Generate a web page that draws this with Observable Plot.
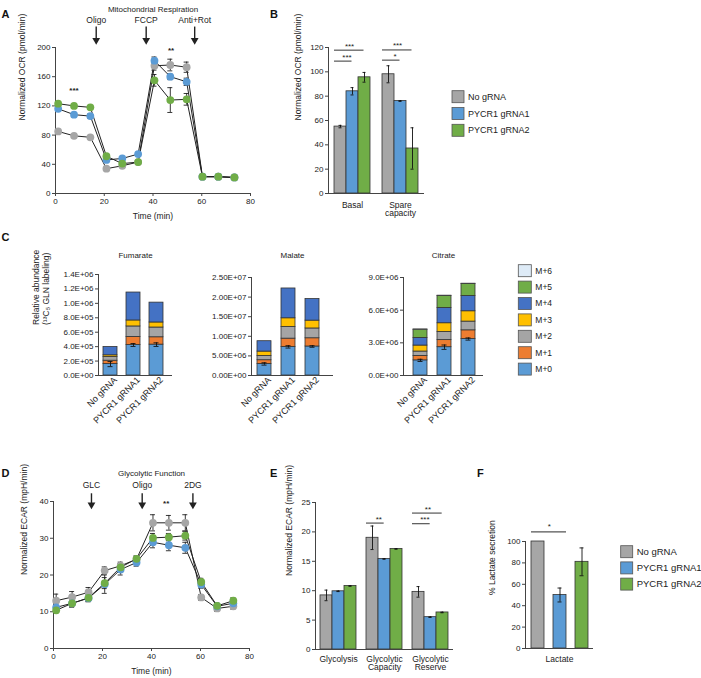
<!DOCTYPE html>
<html><head><meta charset="utf-8">
<script src="https://cdn.jsdelivr.net/npm/d3@7"></script>
<script src="https://cdn.jsdelivr.net/npm/@observablehq/plot@0.6"></script>
<style>
body{margin:0;background:#fff;}
#fig{position:relative;width:701px;height:678px;overflow:hidden;background:#fff;font-family:"Liberation Sans",Arial,Helvetica,sans-serif;color:#222;}
</style></head><body><div id="fig"></div>
<script>
// ---------- shared ----------
const samples = ["No gRNA", "PYCR1 gRNA1", "PYCR1 gRNA2"];
const sampleColors = ["#a6a6a6", "#5b9bd5", "#70ad47"];
const times = [1.1, 7.6, 14.3, 20.9, 27.4, 33.9, 40.6, 47.1, 53.8, 60.3, 66.8, 73.4];
const timeTicks = [0, 20, 40, 60, 80];

// ---------- A: OCR ----------
const ocrNoGRNA = [85, 79, 77, 34, 38, 43, 175, 176, 173, 23, 23, 22];
const ocrGRNA1  = [116, 108, 106, 46, 48, 54, 182, 160, 153, 23, 23, 22];
const ocrGRNA2  = [123, 120, 118, 51, 41, 43, 155, 128, 129, 23, 23, 22];
const ocrErrNoGRNA = [2, 2, 2, 2, 2, 2, 6, 8, 7, 1, 1, 1];
const ocrErrGRNA1  = [2, 3, 3, 2, 2, 2, 5, 4, 5, 1, 1, 1];
const ocrErrGRNA2  = [2, 2, 2, 3, 2, 2, 8, 17, 8, 1, 1, 1];
const ocrInjections = ["Oligo", "FCCP", "Anti+Rot"];
const ocrInjectionTimes = [16.7, 37.2, 57.1];
const ocrSigLabels = ["***", "**"];
const ocrSigTimes = [7.6, 47.4];
const ocrSigValues = [141, 196];
const ocrTicks = [0, 40, 80, 120, 160, 200];

// ---------- B: OCR bars ----------
const ocrGroups = ["Basal", "Spare\ncapacity"];
const ocrBarNoGRNA = [55, 98];
const ocrBarGRNA1  = [84, 76];
const ocrBarGRNA2  = [95.5, 37];
const ocrBarErrNoGRNA = [1, 7];
const ocrBarErrGRNA1  = [3, 0.3];
const ocrBarErrGRNA2  = [4, 17];
const ocrBarTicks = [0, 20, 40, 60, 80, 100, 120];
const ocrBracketGroups = ["Basal", "Basal", "Spare\ncapacity", "Spare\ncapacity"];
const ocrBracketTo = ["PYCR1 gRNA2", "PYCR1 gRNA1", "PYCR1 gRNA2", "PYCR1 gRNA1"];
const ocrBracketValues = [117.8, 108.8, 118, 109.6];
const ocrBracketLabels = ["***", "***", "***", "*"];

// ---------- C: isotopologues ----------
const isoLabels = ["M+0", "M+1", "M+2", "M+3", "M+4", "M+5", "M+6"];
const isoColors = ["#5b9bd5", "#ed7d31", "#a5a5a5", "#ffc000", "#4472c4", "#70ad47", "#deebf7"];
// rows: M+0 .. M+n ; columns: samples
const fumarateLayers = [
  [1.58e5, 4.23e5, 4.28e5],
  [0.47e5, 1.12e5, 1.02e5],
  [0.51e5, 1.45e5, 1.35e5],
  [0.24e5, 0.83e5, 0.70e5],
  [1.15e5, 3.87e5, 2.75e5]
];
const fumarateErrM0 = [0.35e5, 0.2e5, 0.25e5];
const fumarateTicks = [0, 2e5, 4e5, 6e5, 8e5, 1e6, 1.2e6, 1.4e6];
const malateLayers = [
  [2.95e6, 7.3e6, 7.4e6],
  [0.95e6, 2.1e6, 2.1e6],
  [1.1e6, 3.0e6, 2.5e6],
  [1.1e6, 2.2e6, 2.0e6],
  [2.65e6, 7.6e6, 5.5e6]
];
const malateErrM0 = [0.3e6, 0.3e6, 0.2e6];
const malateTicks = [0, 5e6, 1e7, 1.5e7, 2e7, 2.5e7];
const citrateLayers = [
  [1.39e6, 2.6e6, 3.35e6],
  [0.41e6, 0.65e6, 0.8e6],
  [0.40e6, 0.75e6, 0.8e6],
  [0.55e6, 0.8e6, 0.95e6],
  [0.70e6, 1.4e6, 1.4e6],
  [0.75e6, 1.1e6, 1.1e6],
  [0.03e6, 0.03e6, 0.03e6]
];
const citrateErrM0 = [0.1e6, 0.2e6, 0.1e6];
const citrateTicks = [0, 3e6, 6e6, 9e6];

// ---------- D: ECAR ----------
const ecarNoGRNA = [13, 14, 15.3, 21.2, 22.5, 24.3, 34.2, 34.2, 34.2, 13.9, 10.9, 11.5];
const ecarGRNA1  = [11.2, 12.3, 13.7, 17.5, 21.5, 23.4, 28.9, 28.1, 27.4, 17.4, 11.5, 12.3];
const ecarGRNA2  = [10.4, 12.3, 13.8, 17.8, 22.1, 24.4, 30.1, 30.3, 30.7, 18.1, 11.6, 13.0];
const ecarErrNoGRNA = [1.8, 1.5, 1.3, 1.0, 1.0, 0.8, 2.2, 2.0, 2.2, 0.8, 0.8, 0.8];
const ecarErrGRNA1  = [1.0, 1.0, 1.0, 2.5, 1.5, 1.0, 1.5, 1.5, 1.5, 1.0, 0.8, 0.8];
const ecarErrGRNA2  = [0.8, 1.0, 1.0, 1.5, 1.0, 0.8, 1.2, 1.0, 1.2, 1.0, 0.8, 0.8];
const ecarInjections = ["GLC", "Oligo", "2DG"];
const ecarInjectionTimes = [15.5, 36.2, 56.9];
const ecarSigLabels = ["**"];
const ecarSigTimes = [46];
const ecarSigValues = [39.6];
const ecarTicks = [0, 10, 20, 30, 40];

// ---------- E: ECAR bars ----------
const ecarGroups = ["Glycolysis", "Glycolytic\nCapacity", "Glycolytic\nReserve"];
const ecarBarNoGRNA = [9.2, 19.0, 9.8];
const ecarBarGRNA1  = [9.9, 15.4, 5.5];
const ecarBarGRNA2  = [10.8, 17.1, 6.3];
const ecarBarErrNoGRNA = [0.9, 2.0, 0.9];
const ecarBarErrGRNA1  = [0.05, 0.05, 0.05];
const ecarBarErrGRNA2  = [0.05, 0.05, 0.05];
const ecarBarTicks = [0, 5, 10, 15, 20, 25];
const ecarBracketGroups = ["Glycolytic\nCapacity", "Glycolytic\nReserve", "Glycolytic\nReserve"];
const ecarBracketTo = ["PYCR1 gRNA1", "PYCR1 gRNA2", "PYCR1 gRNA1"];
const ecarBracketValues = [21.5, 23.2, 21.4];
const ecarBracketLabels = ["**", "**", "***"];

// ---------- F: lactate ----------
const lactate = [100, 50, 81];
const lactateErr = [0, 6.5, 13];
const lactateTicks = [0, 20, 40, 60, 80, 100];
const lactateBracketTo = ["PYCR1 gRNA1"];
const lactateBracketValues = [109];
const lactateBracketLabels = ["*"];

// ================= drawing =================
const FONT = '"Liberation Sans", Arial, Helvetica, sans-serif';
const INK = "#222";
const AXIS = "#444";
const fig = document.getElementById("fig");
const baseStyle = {fontFamily: FONT, fontSize: "8px", color: INK, background: "transparent", overflow: "visible"};
function mount(svg, left, top) {
  svg.style.position = "absolute";
  svg.style.left = left + "px";
  svg.style.top = top + "px";
  svg.style.background = "transparent";
  svg.style.overflow = "visible";
  svg.style.maxWidth = "none";
  fig.appendChild(svg);
}
function sci(digits) {
  return v => {
    const [m, e] = v.toExponential(digits).split("e");
    const n = +e;
    return `${m}E${n < 0 ? "-" : "+"}${String(Math.abs(n)).padStart(2, "0")}`;
  };
}
function tidyTime(series, errs) {
  return samples.flatMap((s, k) => times.map((t, i) => ({sample: s, t, v: series[k][i], e: errs[k][i]})));
}
function tidyBars(groups, series, errs) {
  return groups.flatMap((g, j) => samples.map((s, k) => ({group: g, sample: s, v: series[k][j], e: errs[k][j]})));
}
function errLinear(rows) {
  const o = {stroke: INK, strokeWidth: 0.9};
  return [
    Plot.ruleX(rows, {x: "t", y1: d => d.v - d.e, y2: d => d.v + d.e, ...o}),
    Plot.ruleY(rows, {x1: "t", x2: "t", y: d => d.v + d.e, insetLeft: -2.5, insetRight: -2.5, ...o}),
    Plot.ruleY(rows, {x1: "t", x2: "t", y: d => d.v - d.e, insetLeft: -2.5, insetRight: -2.5, ...o})
  ];
}
function errBand(rows, inset, facet) {
  const o = {stroke: "#111", strokeWidth: 0.9};
  const f = facet ? {fx: "group"} : {};
  return [
    Plot.ruleX(rows, {...f, x: "sample", y1: d => d.v - d.e, y2: d => d.v + d.e, ...o}),
    Plot.tickY(rows, {...f, x: "sample", y: d => d.v + d.e, inset, ...o}),
    Plot.tickY(rows, {...f, x: "sample", y: d => d.v - d.e, inset, ...o})
  ];
}

// ---- time-course panel (A, D) ----
function timePanel(o) {
  const rows = tidyTime(o.series, o.errs);
  return Plot.plot({
    width: o.width, height: o.height,
    marginLeft: o.mL, marginRight: o.mR, marginTop: o.mT, marginBottom: o.mB,
    x: {domain: [0, 80]},
    y: {domain: [0, o.yMax]},
    color: {domain: samples, range: sampleColors},
    style: baseStyle,
    marks: [
      Plot.frame({anchor: "left", stroke: AXIS}),
      Plot.frame({anchor: "bottom", stroke: AXIS}),
      Plot.axisX({ticks: timeTicks, tickSize: 3, tickPadding: 2, label: null, stroke: AXIS}),
      Plot.axisY({ticks: o.ticks, tickSize: 3, tickPadding: 2, label: null, stroke: AXIS}),
      Plot.text([o.yLabel], {frameAnchor: "left", rotate: -90, dx: o.yLabelDx, fontSize: 8.5}),
      Plot.text(["Time (min)"], {frameAnchor: "bottom", dy: 25, fontSize: 8.5}),
      Plot.text([o.title], {frameAnchor: "top", dy: o.titleDy, fontSize: 8}),
      Plot.ruleX(o.injTimes, {x: d => d, y1: o.arrowTop, y2: o.arrowHead, stroke: INK, strokeWidth: 1.4}),
      Plot.dot(o.injTimes, {x: d => d, y: o.arrowHead, symbol: "triangle", rotate: 180, r: 2.9, fill: INK, stroke: "none"}),
      Plot.text(o.injTimes, {x: d => d, y: o.injLabelY, text: (d, i) => o.injLabels[i], fontSize: 8.5}),
      Plot.line(rows, {x: "t", y: "v", z: "sample", stroke: INK, strokeWidth: 1}),
      ...errLinear(rows),
      Plot.dot(rows, {x: "t", y: "v", fill: "sample", r: 3.9, stroke: "none"}),
      Plot.text(o.sigTimes, {x: d => d, y: (d, i) => o.sigValues[i], text: (d, i) => o.sigLabels[i], fontSize: 8, fontWeight: "bold"})
    ]
  });
}

mount(timePanel({
  width: 260, height: 225, mL: 55, mR: 10, mT: 47, mB: 32,
  yMax: 200, ticks: ocrTicks,
  series: [ocrNoGRNA, ocrGRNA1, ocrGRNA2], errs: [ocrErrNoGRNA, ocrErrGRNA1, ocrErrGRNA2],
  yLabel: "Normalized OCR (pmol/min)", yLabelDx: -33,
  title: "Mitochondrial Respiration", titleDy: -41,
  injTimes: ocrInjectionTimes, injLabels: ocrInjections,
  arrowTop: 228, arrowHead: 210, injLabelY: 237.5,
  sigTimes: ocrSigTimes, sigValues: ocrSigValues, sigLabels: ocrSigLabels
}), 0, 0);

mount(timePanel({
  width: 260, height: 238, mL: 53, mR: 11, mT: 61, mB: 30,
  yMax: 40, ticks: ecarTicks,
  series: [ecarNoGRNA, ecarGRNA1, ecarGRNA2], errs: [ecarErrNoGRNA, ecarErrGRNA1, ecarErrGRNA2],
  yLabel: "Normalized ECAR (mpH/min)", yLabelDx: -29,
  title: "Glycolytic Function", titleDy: -31,
  injTimes: ecarInjectionTimes, injLabels: ecarInjections,
  arrowTop: 42.1, arrowHead: 39.1, injLabelY: 44.5,
  sigTimes: ecarSigTimes, sigValues: ecarSigValues, sigLabels: ecarSigLabels
}), 0, 440);

// ---- grouped bar panels (B, E) ----
function groupedPanel(o) {
  const rows = tidyBars(o.groups, o.series, o.errs);
  const br = o.brGroups.map((g, i) => ({group: g, from: samples[0], to: o.brTo[i], v: o.brValues[i], label: o.brLabels[i]}));
  const brShort = br.filter(d => d.to === samples[1]);
  const brLong = br.filter(d => d.to === samples[2]);
  return Plot.plot({
    width: o.width, height: o.height,
    marginLeft: o.mL, marginRight: o.mR, marginTop: o.mT, marginBottom: o.mB,
    fx: {domain: o.groups, padding: 0},
    x: {domain: samples, paddingInner: 0, paddingOuter: o.po, axis: null},
    y: {domain: [0, o.yMax]},
    color: {domain: samples, range: sampleColors},
    style: baseStyle,
    marks: [
      Plot.barY(rows, {fx: "group", x: "sample", y: "v", fill: "sample", stroke: "#333", strokeWidth: 0.8}),
      ...errBand(rows, 4.5, true),
      Plot.ruleY([0], {stroke: AXIS}),
      Plot.frame({anchor: "left", facetAnchor: "left", stroke: AXIS}),
      Plot.axisY({ticks: o.ticks, tickSize: 3, tickPadding: 2, label: null, stroke: AXIS}),
      Plot.axisFx({anchor: "bottom", tickSize: 0, tickPadding: o.fxPad, label: null, fontSize: 8.5}),
      Plot.text([o.yLabel], {frameAnchor: "left", rotate: -90, dx: o.yLabelDx, fontSize: 8.5, facetAnchor: "left"}),
      Plot.ruleY(br, {fx: "group", x1: "from", x2: "to", y: "v", insetRight: o.bw / 2, stroke: "#555", strokeWidth: 1.2}),
      Plot.text(brShort, {fx: "group", x: "from", y: "v", text: "label", dx: o.bw * 0.5, dy: -4, fontSize: 8}),
      Plot.text(brLong, {fx: "group", x: "to", y: "v", text: "label", dx: -o.bw * 1.15, dy: -4, fontSize: 8})
    ]
  });
}

mount(groupedPanel({
  width: 200, height: 225, mL: 98, mR: 6, mT: 47, mB: 32,
  groups: ocrGroups, series: [ocrBarNoGRNA, ocrBarGRNA1, ocrBarGRNA2],
  errs: [ocrBarErrNoGRNA, ocrBarErrGRNA1, ocrBarErrGRNA2],
  po: 0.35, bw: 13, yMax: 120, ticks: ocrBarTicks, fxPad: 8,
  yLabel: "Normalized OCR (pmol/min)", yLabelDx: -30,
  brGroups: ocrBracketGroups, brTo: ocrBracketTo, brValues: ocrBracketValues, brLabels: ocrBracketLabels
}), 230, 0);

mount(groupedPanel({
  width: 225, height: 238, mL: 79, mR: 7, mT: 62, mB: 29,
  groups: ecarGroups, series: [ecarBarNoGRNA, ecarBarGRNA1, ecarBarGRNA2],
  errs: [ecarBarErrNoGRNA, ecarBarErrGRNA1, ecarBarErrGRNA2],
  po: 0.33, bw: 12.67, yMax: 25, ticks: ecarBarTicks, fxPad: 6,
  yLabel: "Normalized ECAR (mpH/min)", yLabelDx: -26,
  brGroups: ecarBracketGroups, brTo: ecarBracketTo, brValues: ecarBracketValues, brLabels: ecarBracketLabels
}), 235, 440);

// ---- stacked isotopologue panels (C) ----
function stackPanel(o) {
  const rows = [];
  o.layers.forEach((layer, j) => layer.forEach((v, k) => rows.push({iso: isoLabels[j], sample: samples[k], v})));
  const errRows = samples.map((s, k) => ({sample: s, v: o.layers[0][k], e: o.errM0[k]}));
  const marks = [
    Plot.barY(rows, {x: "sample", y: "v", fill: "iso", stroke: "#333", strokeWidth: 0.8}),
    ...errBand(errRows, 4.5, false),
    Plot.frame({anchor: "left", stroke: AXIS}),
    Plot.ruleY([0], {stroke: AXIS}),
    Plot.axisY({ticks: o.ticks, tickFormat: sci(o.digits), tickSize: 3, tickPadding: 2, label: null, stroke: AXIS}),
    Plot.axisX({tickRotate: -45, tickSize: 0, tickPadding: 3, label: null, fontSize: 9, dx: 5}),
    Plot.text([o.name], {frameAnchor: "top", dy: o.titleDy, fontSize: 8})
  ];
  if (o.yLabel) marks.push(Plot.text([o.yLabel], {frameAnchor: "left", rotate: -90, dx: o.yLabelDx, fontSize: 8.5, lineHeight: 1.2}));
  return Plot.plot({
    width: o.width, height: 200,
    marginLeft: o.mL, marginRight: o.mR, marginTop: o.mT, marginBottom: 50,
    x: {domain: samples, paddingInner: o.pi, paddingOuter: o.po, align: o.align},
    y: {domain: [0, o.ticks[o.ticks.length - 1]]},
    color: {domain: isoLabels, range: isoColors},
    style: baseStyle,
    marks
  });
}

mount(stackPanel({
  name: "Fumarate", layers: fumarateLayers, errM0: fumarateErrM0, ticks: fumarateTicks, digits: 1,
  width: 180, mL: 98, mR: 8, mT: 49, pi: 0.41, po: 0.27, align: 0.37, titleDy: -22,
  yLabel: "Relative abundance\n(\u00b9\u00b3C\u2085 GLN labeling)", yLabelDx: -58
}), 0, 225);
mount(stackPanel({
  name: "Malate", layers: malateLayers, errM0: malateErrM0, ticks: malateTicks, digits: 2,
  width: 180, mL: 91, mR: 7, mT: 52, pi: 0.43, po: 0.38, align: 0.3, titleDy: -25
}), 160, 225);
mount(stackPanel({
  name: "Citrate", layers: citrateLayers, errM0: citrateErrM0, ticks: citrateTicks, digits: 1,
  width: 170, mL: 83, mR: 7, mT: 52, pi: 0.4, po: 0.31, align: 0.56, titleDy: -25
}), 320, 225);

// ---- F: lactate ----
{
  const rows = samples.map((s, k) => ({sample: s, v: lactate[k], e: lactateErr[k]}));
  const br = lactateBracketTo.map((t, i) => ({from: samples[0], to: t, v: lactateBracketValues[i], label: lactateBracketLabels[i]}));
  const bw = 13.3;
  mount(Plot.plot({
    width: 150, height: 238, marginLeft: 75, marginRight: 7, marginTop: 101, marginBottom: 30,
    x: {domain: samples, paddingInner: 0.41, paddingOuter: 0.21, axis: null},
    y: {domain: [0, 100]},
    color: {domain: samples, range: sampleColors},
    style: baseStyle,
    marks: [
      Plot.barY(rows, {x: "sample", y: "v", fill: "sample", stroke: "#333", strokeWidth: 0.8}),
      ...errBand(rows.filter(d => d.e > 0), 4.5, false),
      Plot.frame({anchor: "left", stroke: AXIS}),
      Plot.ruleY([0], {stroke: AXIS}),
      Plot.axisY({ticks: lactateTicks, tickSize: 3, tickPadding: 2, label: null, stroke: AXIS}),
      Plot.text(["% Lactate secretion"], {frameAnchor: "left", rotate: -90, dx: -33, fontSize: 8.5}),
      Plot.text(["Lactate"], {frameAnchor: "bottom", dy: 13, fontSize: 8.5}),
      Plot.ruleY(br, {x1: "from", x2: "to", y: "v", stroke: "#555", strokeWidth: 1.2}),
      Plot.text(br, {x: "from", y: "v", text: "label", dx: bw * 0.85, dy: -5, fontSize: 8})
    ]
  }), 450, 440);
}

// ---- overlay: panel letters and legends ----
const ov = d3.select(fig).append("svg")
  .attr("width", 701).attr("height", 678)
  .style("position", "absolute").style("left", "0px").style("top", "0px")
  .style("pointer-events", "none")
  .attr("font-family", FONT);
const panelLetters = ["A", "B", "C", "D", "E", "F"];
const letterX = [1.5, 270, 1.5, 1.5, 270, 477];
const letterY = [17.5, 18, 241, 477, 477, 477];
ov.selectAll("text.letter").data(panelLetters).join("text")
  .attr("x", (d, i) => letterX[i]).attr("y", (d, i) => letterY[i])
  .attr("font-size", 11).attr("font-weight", "bold").attr("fill", "#111").text(d => d);

function legend(labels, colors, x, y0, step, sw, sh, fs) {
  const g = ov.append("g");
  labels.forEach((lab, i) => {
    const cy = y0 + i * step;
    g.append("rect").attr("x", x).attr("y", cy - sh / 2).attr("width", sw).attr("height", sh)
      .attr("fill", colors[i]).attr("stroke", "#555").attr("stroke-width", 0.8);
    g.append("text").attr("x", x + sw + 4).attr("y", cy).attr("dy", "0.35em")
      .attr("font-size", fs).attr("fill", INK).text(lab);
  });
}
legend(samples, sampleColors, 452, 96.7, 16.8, 12, 12, 9);
legend(isoLabels.slice().reverse(), isoColors.slice().reverse(), 518.3, 270.7, 16.4, 13, 12, 8.5);
legend(samples, sampleColors, 620.7, 551.7, 16.2, 12, 12, 9.5);
</script></body></html>
